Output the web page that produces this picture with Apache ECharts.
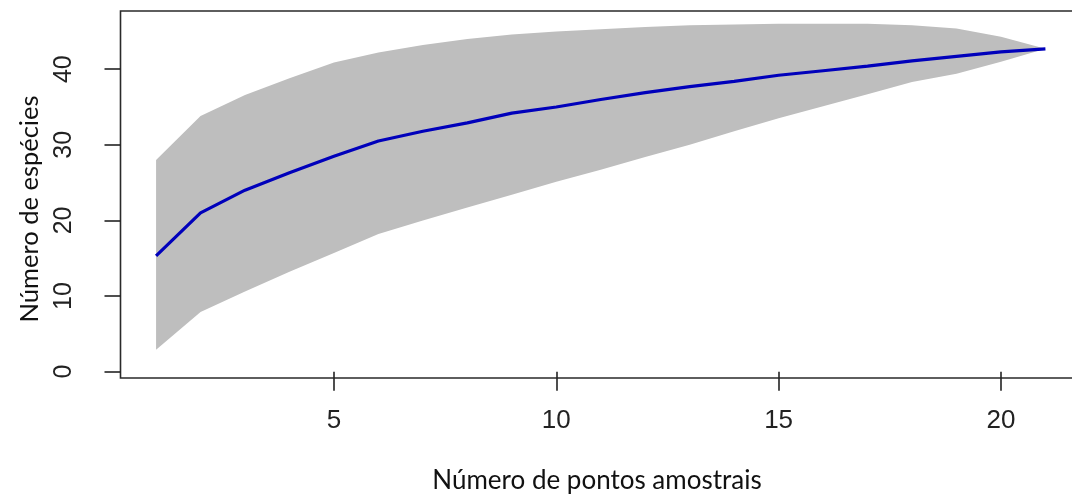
<!DOCTYPE html>
<html>
<head>
<meta charset="utf-8">
<script src="https://cdn.jsdelivr.net/npm/echarts@6/dist/echarts.min.js"></script>
<style>
  html, body { margin: 0; padding: 0; background: #ffffff; }
  #chart { width: 1072px; height: 497px; }
</style>
</head>
<body>
<div id="chart"></div>
<script>
// Species accumulation: mean richness and its envelope per number of sample points
const samplePoints = [1, 2, 3, 4, 5, 6, 7, 8, 9, 10, 11, 12, 13, 14, 15, 16, 17, 18, 19, 20, 21];
const richness = [15.3, 21.0, 24.0, 26.3, 28.5, 30.5, 31.8, 32.9, 34.2, 35.0, 36.0, 36.9, 37.7, 38.4, 39.2, 39.8, 40.4, 41.1, 41.7, 42.3, 42.7];
const upperBound = [28.0, 33.8, 36.6, 38.8, 40.9, 42.2, 43.2, 44.0, 44.6, 45.0, 45.3, 45.6, 45.8, 45.9, 46.0, 46.0, 46.0, 45.8, 45.4, 44.3, 42.7];
const lowerBound = [2.9, 7.9, 10.6, 13.2, 15.7, 18.2, 20.0, 21.7, 23.4, 25.1, 26.7, 28.4, 30.0, 31.8, 33.5, 35.1, 36.7, 38.3, 39.4, 41.0, 42.7];
const xTicks = [5, 10, 15, 20];
const yTicks = [0, 10, 20, 30, 40];

const xTitle = 'Número de pontos amostrais';
const yTitle = 'Número de espécies';

const chart = echarts.init(document.getElementById('chart'), null, { renderer: 'canvas' });

const bandData = samplePoints.map((x, i) => [x, lowerBound[i], upperBound[i]]);
const meanData = samplePoints.map((x, i) => [x, richness[i]]);

const option = {
  animation: false,
  backgroundColor: '#ffffff',
  grid: {
    // the plotting box runs past the right edge of the canvas
    left: 120.5, top: 11, width: 960.5, height: 367,
    outerBoundsMode: 'none', containLabel: false,
    show: true, borderColor: '#2a2a2a', borderWidth: 1.6,
    backgroundColor: 'transparent'
  },
  xAxis: {
    type: 'value', min: 0.2, max: 21.8,
    axisLine: { show: false },
    splitLine: { show: false },
    axisTick: { show: true, customValues: xTicks, length: 19, inside: false,
      lineStyle: { color: '#222', width: 1.6 } },
    axisLabel: { customValues: xTicks, margin: 30, color: '#222', fontSize: 26,
      fontFamily: "'Liberation Sans', sans-serif" }
  },
  yAxis: {
    type: 'value', min: -0.84, max: 47.7,
    axisLine: { show: false },
    splitLine: { show: false },
    axisTick: { show: true, customValues: yTicks, length: 16,
      lineStyle: { color: '#222', width: 1.6 } },
    axisLabel: { customValues: yTicks, rotate: 90, margin: 44, color: '#222', fontSize: 25,
      fontFamily: "'Liberation Sans', sans-serif" }
  },
  graphic: [
    { type: 'text', x: 597, y: 481, style: { text: xTitle, fill: '#111', font: "26px 'Lato', sans-serif", textAlign: 'center', textVerticalAlign: 'middle' } },
    { type: 'text', x: 30, y: 209, rotation: Math.PI / 2, style: { text: yTitle, fill: '#111', font: "25.5px 'Lato', sans-serif", textAlign: 'center', textVerticalAlign: 'middle' } }
  ],
  series: [
    {
      // grey envelope polygon: upper edge left to right, lower edge back
      type: 'custom',
      data: bandData,
      clip: true,
      renderItem: function (params, api) {
        if (params.dataIndex !== 0) return null;
        const pts = [];
        for (let i = 0; i < bandData.length; i++) pts.push(api.coord([bandData[i][0], bandData[i][2]]));
        for (let i = bandData.length - 1; i >= 0; i--) pts.push(api.coord([bandData[i][0], bandData[i][1]]));
        return { type: 'polygon', shape: { points: pts }, style: { fill: '#bebebe', stroke: null } };
      },
      encode: { x: 0, y: [1, 2] },
      z: 1
    },
    {
      type: 'line',
      data: meanData,
      symbol: 'none',
      lineStyle: { color: '#0000bb', width: 3.2 },
      z: 3
    }
  ]
};

chart.setOption(option);
</script>
</body>
</html>
